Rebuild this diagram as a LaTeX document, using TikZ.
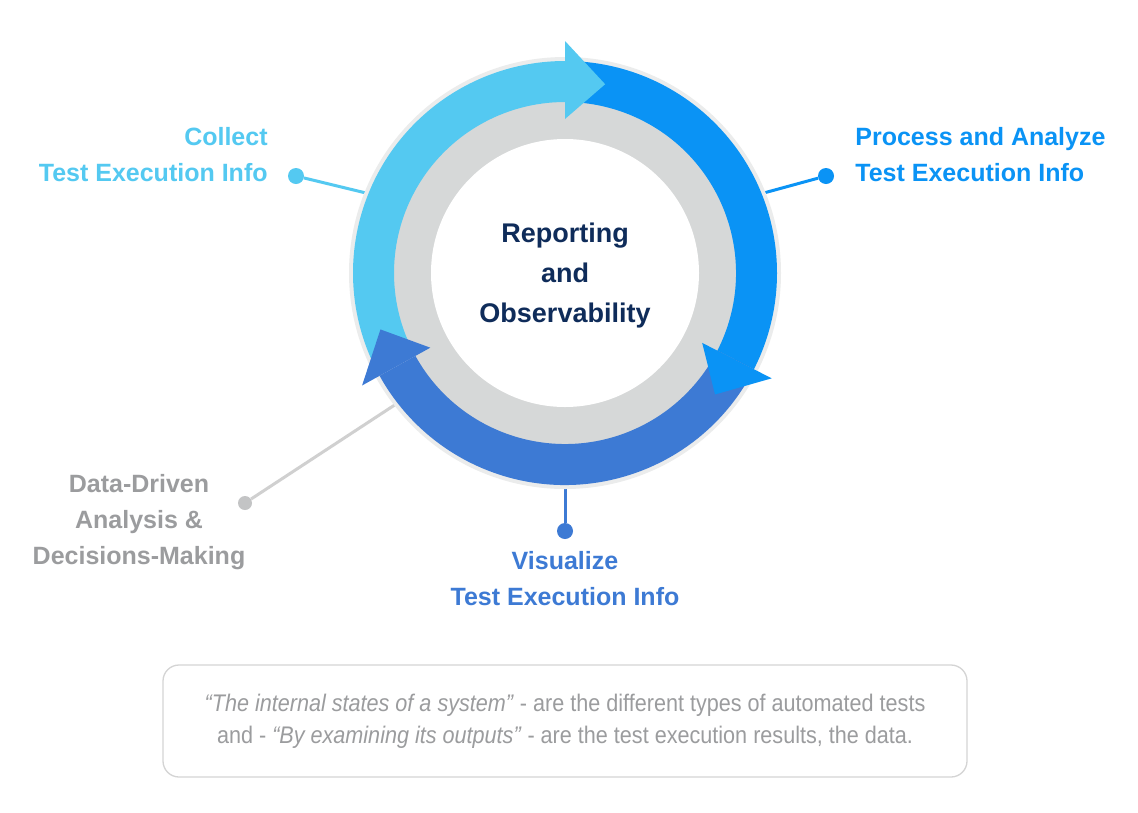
\documentclass[tikz,border=0pt]{standalone}
\usepackage{fontspec}
\setmainfont{Liberation Sans}
\newfontfamily\notefont[FakeStretch=0.9]{Liberation Sans}
\usetikzlibrary{positioning, calc}
\usepackage{xcolor}
\definecolor{collectcol}{HTML}{54C9F1}
\definecolor{processcol}{HTML}{0A93F5}
\definecolor{visualcol}{HTML}{3D7AD4}
\definecolor{ringcol}{HTML}{D6D8D8}
\definecolor{corecol}{HTML}{0F2C5A}
\definecolor{datacol}{HTML}{9B9C9E}
\definecolor{datalinecol}{HTML}{D0D0D0}
\definecolor{boxcol}{HTML}{D4D4D4}

\begin{document}
\begin{tikzpicture}[
    x=1pt, y=1pt,
    dot/.style={circle, inner sep=0pt, minimum size=16pt},
    lbl/.style={font=\fontsize{25}{36}\selectfont\bfseries, inner sep=0pt},
    link/.style={line width=3pt},
]

\fill[white] (0,0) rectangle (1138,-812);
\useasboundingbox (0,0) rectangle (1138,-812);

% ── Cycle centre ──
\coordinate (c) at (565,-273);

% ── Connector ends on the ring ──
\coordinate (collectend) at ($(c)+(158:212pt)$);
\coordinate (processend) at ($(c)+(22:212pt)$);
\coordinate (visualend)  at ($(c)+(-90:210pt)$);
\coordinate (dataend)    at ($(c)+(218:205pt)$);

% ── Dots ──
\node[dot, fill=collectcol] (collectdot) at (296,-176) {};
\node[dot, fill=processcol] (processdot) at (826,-176) {};
\node[dot, fill=visualcol]  (visualdot)  at (565,-531) {};
\node[dot, fill=datacol!60, minimum size=14pt] (datadot) at (245,-503) {};

% ── Connectors (behind the ring) ──
\draw[link, collectcol]  (collectdot) -- (collectend);
\draw[link, processcol]  (processdot) -- (processend);
\draw[link, visualcol]   (visualdot)  -- (visualend);
\draw[link, datalinecol] (datadot)    -- (dataend);

% ── Ring ──
\fill[ringcol!50] (c) circle (216pt);
\fill[ringcol] (c) circle (176pt);
\fill[white] (c) circle (134pt);

% ── Arrow bands ──
\fill[collectcol]
    ($(c)+(205:212pt)$) arc[start angle=205, end angle=90, radius=212pt]
    -- ($(c)+(90:171pt)$) arc[start angle=90, end angle=205, radius=171pt] -- cycle;
\fill[processcol]
    ($(c)+(90:212pt)$) arc[start angle=90, end angle=-27, radius=212pt]
    -- ($(c)+(-27:171pt)$) arc[start angle=-27, end angle=90, radius=171pt] -- cycle;
\fill[visualcol]
    ($(c)+(-27:212pt)$) arc[start angle=-27, end angle=-151, radius=212pt]
    -- ($(c)+(-151:171pt)$) arc[start angle=-151, end angle=-27, radius=171pt] -- cycle;

% ── Arrow heads ──
\fill[collectcol] ($(c)+(90:232pt)$) -- ($(c)+(78:193pt)$) -- ($(c)+(90:154pt)$) -- cycle;
\fill[processcol] ($(c)+(-27:232pt)$) -- ($(c)+(-39:193pt)$) -- ($(c)+(-27:154pt)$) -- cycle;
\fill[visualcol] ($(c)+(209:232pt)$) -- ($(c)+(197:193pt)$) -- ($(c)+(209:154pt)$) -- cycle;

% ── Centre text ──
\node[font=\fontsize{27}{40}\selectfont\bfseries, text=corecol, align=center, yshift=-3pt] (core) at (c)
    {Reporting\\and\\Observability};

% ── Labels ──
\node[lbl, text=collectcol, align=right, left=20pt of collectdot, yshift=21pt] (collect)
    {Collect\\Test Execution Info};
\node[lbl, text=processcol, align=left, right=21pt of processdot, yshift=21pt] (process)
    {Process and Analyze\\Test Execution Info};
\node[lbl, text=visualcol, align=center, below=12pt of visualdot] (visual)
    {Visualize\\Test Execution Info};
\node[lbl, text=datacol, align=center] (data) at (139,-522)
    {Data-Driven\\Analysis \&\\Decisions-Making};

% ── Note box ──
\node[draw=boxcol, line width=1.3pt, rounded corners=16pt, minimum width=804pt,
      minimum height=112pt, align=center, text=datacol,
      font=\notefont\fontsize{24}{32}\selectfont] (note) at (565,-721)
    {\textit{“The internal states of a system”} - are the different types of automated tests\\
     and - \textit{“By examining its outputs”} - are the test execution results, the data.};

\end{tikzpicture}
\end{document}
